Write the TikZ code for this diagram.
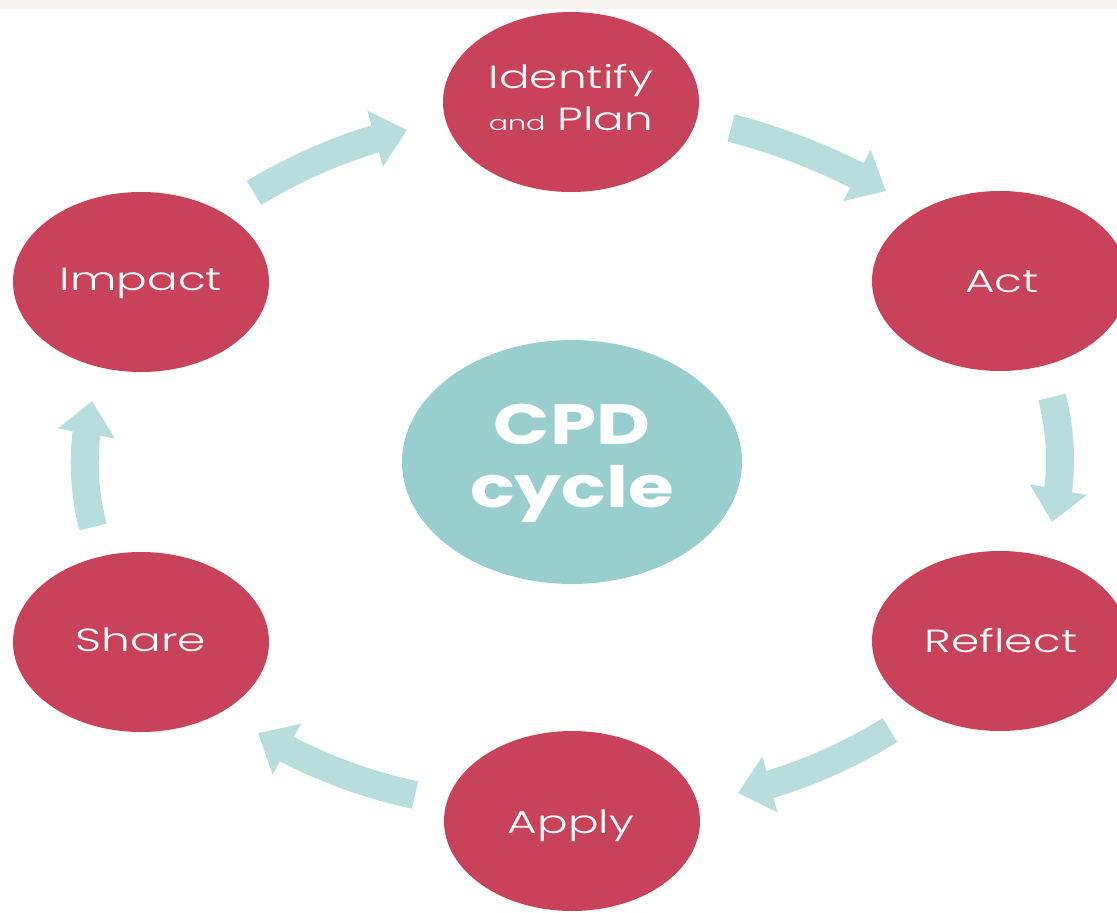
\documentclass[tikz,border=0pt]{standalone}
\usepackage{fontspec}
\newfontfamily\lblfont{Poppins Light}[FakeStretch=1.42]
\newfontfamily\cpdfont{Poppins}[FakeStretch=1.3]
\usetikzlibrary{shapes.geometric,arrows.meta,calc,bending}
\definecolor{cred}{HTML}{C8425A}
\definecolor{cteal}{HTML}{99CECE}
\definecolor{carrow}{HTML}{B7DDDD}
\definecolor{cstrip}{HTML}{F7F4F0}
\begin{document}
\begin{tikzpicture}[x=1pt,y=-1pt,
  bub/.style={ellipse, fill=cred, minimum width=256pt, minimum height=180pt, inner sep=0pt},
  hub/.style={ellipse, fill=cteal, minimum width=340pt, minimum height=244pt, inner sep=0pt},
  lbl/.style={text=white, font=\lblfont\fontsize{32}{42}\selectfont, align=center, inner sep=0pt},
  lblone/.style={lbl, text height=23pt, text depth=8pt},
  arr/.style={draw=carrow, line width=28pt, -{Triangle[width=56pt,length=33pt]}}]
\useasboundingbox (0,0) rectangle (1117,913);
\fill[white] (0,0) rectangle (1117,913);
% arrow end points and bulge controls
\coordinate (a1t) at (254,193); \coordinate (a1h) at (407,130); \coordinate (q1) at (325,150);
\coordinate (a2t) at (731,128); \coordinate (a2h) at (886,191); \coordinate (q2) at (812,149);
\coordinate (a3t) at (1052,397); \coordinate (a3h) at (1052,522); \coordinate (q3) at (1068,460);
\coordinate (a4t) at (890,730); \coordinate (a4h) at (738,793); \coordinate (q4) at (819,774);
\coordinate (a5t) at (415,795); \coordinate (a5h) at (258,733); \coordinate (q5) at (331,777);
\coordinate (a6t) at (93,527); \coordinate (a6h) at (92,401); \coordinate (q6) at (77,465);
\foreach \i in {1,...,6}{
  \draw[arr] (a\i t) .. controls ($(a\i t)!2/3!(q\i)$) and ($(a\i h)!2/3!(q\i)$) .. (a\i h);
}
% bubbles
\node[bub] (idp) at (571,102) {};
\node[bub] (act) at (1000,281) {};
\node[bub] (ref) at (1000,641) {};
\node[bub] (app) at (572,821) {};
\node[bub] (sha) at (141,642) {};
\node[bub] (imp) at (141,282) {};
\node[hub] (cpd) at (572,462) {};
% labels
\node[lbl] (tidp) at (571,97.5) {Identify\\{\fontsize{20}{42}\selectfont and} Plan};
\node[lblone] (tact) at (1002,284.5) {Act};
\node[lblone] (tref) at (1001,644.5) {Reflect};
\node[lblone] (tapp) at (571,825.5) {Apply};
\node[lblone] (tsha) at (141,643.5) {Share};
\node[lblone] (timp) at (141,282.5) {Impact};
\node[text=white, align=center, inner sep=0pt, font=\cpdfont\bfseries\fontsize{57}{63}\selectfont] (tcpd) at (572,463) {CPD\\cycle};
% top strip
\fill[cstrip] (0,0) rectangle (1117,9);
\end{tikzpicture}
\end{document}
